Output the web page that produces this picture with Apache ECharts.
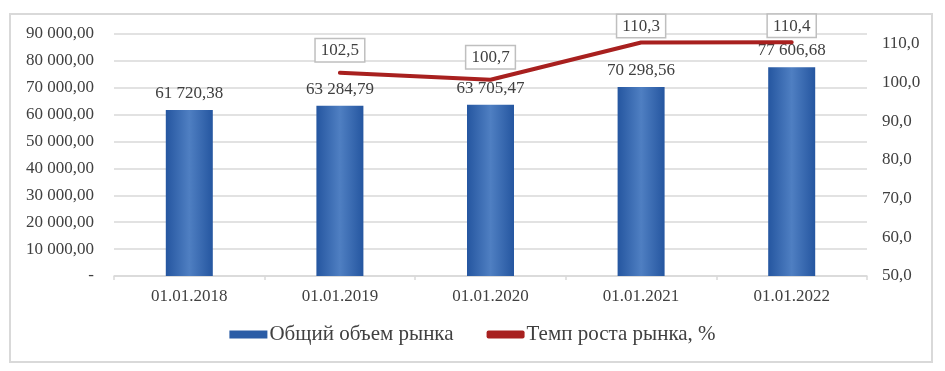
<!DOCTYPE html>
<html>
<head>
<meta charset="utf-8">
<script src="https://cdn.jsdelivr.net/npm/echarts@6/dist/echarts.min.js"></script>
<style>
  html, body { margin: 0; padding: 0; background: #fff; }
  #chart { width: 945px; height: 371px; }
</style>
</head>
<body>
<div id="chart"></div>
<script>
const categories = ['01.01.2018', '01.01.2019', '01.01.2020', '01.01.2021', '01.01.2022']
const marketVolume = [61720.38, 63284.79, 63705.47, 70298.56, 77606.68]
const growthRate = ['-', 102.5, 100.7, 110.3, 110.4]
const seriesNames = ['Общий объем рынка', 'Темп роста рынка, %']

const font = 'Liberation Serif, Times New Roman, serif'
const textColor = '#404040'

const groupThousands = (s) => s.replace(/\B(?=(\d{3})+(?!\d))/g, ' ')

const fmtMoney = (v) => {
  const [int, dec] = Number(v).toFixed(2).split('.')
  return groupThousands(int) + ',' + dec
}

const fmtRate = (v) => Number(v).toFixed(1).replace('.', ',')

const chart = echarts.init(document.getElementById('chart'), null, { renderer: 'canvas' })

const option = {
  animation: false,
  backgroundColor: '#fff',
  textStyle: { fontFamily: font, color: textColor },
  graphic: [{
    type: 'rect',
    shape: { x: 10, y: 14, width: 922, height: 348 },
    style: { fill: 'none', stroke: '#d9d9d9', lineWidth: 2 },
    silent: true,
    z: -10
  }],
  grid: { left: 114, right: 78, top: 34, bottom: 95 },
  legend: {
    bottom: 21,
    left: 'center',
    itemWidth: 38,
    itemHeight: 8,
    itemGap: 33,
    textStyle: { fontFamily: font, fontSize: 21, color: textColor, padding: [0, 0, 0, -3] },
    data: [
      { name: seriesNames[0], icon: 'rect', itemStyle: { color: '#2a5ca6' } },
      { name: seriesNames[1], icon: 'roundRect' }
    ]
  },
  xAxis: {
    type: 'category',
    data: categories,
    axisLine: { lineStyle: { color: '#d9d9d9', width: 1.5 } },
    axisTick: { show: true, length: 4, lineStyle: { color: '#d9d9d9', width: 1.5 } },
    axisLabel: { fontFamily: font, fontSize: 17, color: textColor, margin: 12 }
  },
  yAxis: [
    {
      type: 'value',
      min: 0,
      max: 90000,
      interval: 10000,
      axisLine: { show: false },
      axisTick: { show: false },
      splitLine: { lineStyle: { color: '#d9d9d9', width: 1.5 } },
      axisLabel: {
        fontFamily: font, fontSize: 17, color: textColor, margin: 20,
        formatter: (v) => v === 0 ? '-' : fmtMoney(v)
      }
    },
    {
      type: 'value',
      min: 50,
      max: 112.5,
      interval: 10,
      axisLine: { show: false },
      axisTick: { show: false },
      splitLine: { show: false },
      axisLabel: {
        fontFamily: font, fontSize: 17, color: textColor, margin: 15,
        formatter: (v) => v % 10 === 0 ? fmtRate(v) : ''
      }
    }
  ],
  series: [
    {
      name: seriesNames[0],
      type: 'bar',
      data: marketVolume,
      barWidth: 47,
      itemStyle: {
        color: new echarts.graphic.LinearGradient(0, 0, 1, 0, [
          { offset: 0, color: '#2556a0' },
          { offset: 0.5, color: '#4f7fc2' },
          { offset: 1, color: '#2556a0' }
        ])
      },
      label: {
        show: true,
        position: 'top',
        distance: 8,
        fontFamily: font,
        fontSize: 17,
        color: textColor,
        formatter: (p) => fmtMoney(p.value)
      },
      z: 2
    },
    {
      name: seriesNames[1],
      type: 'line',
      yAxisIndex: 1,
      data: growthRate.map((v) => ({
        value: v,
        label: { show: v !== '-', distance: v !== '-' && v > 105 ? 5 : 11 }
      })),
      symbol: 'circle',
      symbolSize: 1,
      showSymbol: true,
      color: '#a8201f',
      itemStyle: { color: '#a8201f' },
      lineStyle: { color: '#a8201f', width: 4, cap: 'round', join: 'round' },
      label: {
        show: true,
        position: 'top',
        fontFamily: font,
        fontSize: 17,
        color: textColor,
        backgroundColor: '#fff',
        borderColor: '#bfbfbf',
        borderWidth: 1.5,
        padding: [3, 5, 2, 5],
        formatter: (p) => fmtRate(p.value)
      },
      z: 3
    }
  ]
}

chart.setOption(option)
window.addEventListener('resize', () => chart.resize())
</script>
</body>
</html>
